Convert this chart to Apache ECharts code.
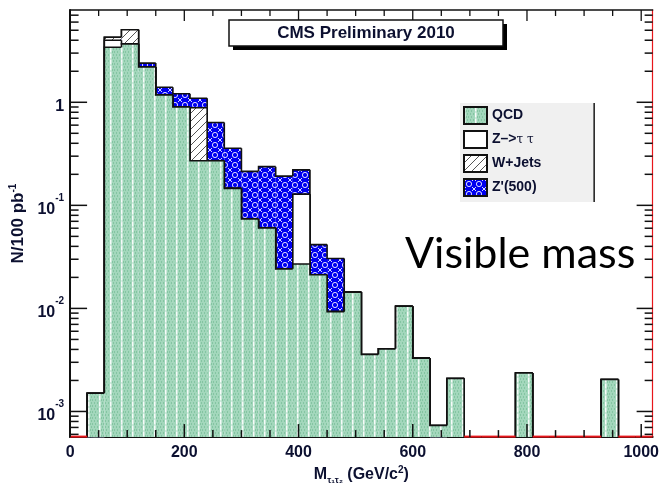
<!DOCTYPE html>
<html>
<head>
<meta charset="utf-8">
<script src="https://cdn.jsdelivr.net/npm/echarts@6/dist/echarts.min.js"></script>
<style>
html,body{margin:0;padding:0;background:#ffffff;}
#chart{width:662px;height:490px;}
</style>
</head>
<body>
<div id="chart"></div>
<script>
// ---------------- data ----------------
const binLow = [0,30,60,90,120,150,180,210,240,270,300,330,360,390,420,450,480,510,540,570,600,630,660,690,720,750,780,810,840,870,900,930,960,990];
const binWidth = 30;
const seriesNames = ['QCD', 'Z->ττ', 'W+Jets', "Z'(500)"];
const qcd     = [0,0.0015,3.42,3.69,2.20,1.18,0.90,0.271,0.271,0.146,0.0736,0.0605,0.0242,0.027,0.0212,0.0093,0.0144,0.00357,0.00405,0.0105,0.00329,0.00073,0.00209,0,0,0,0.00236,0,0,0,0,0.00204,0,0];
const ztautau = [0,0,0.58,0,0,0,0,0,0,0,0,0,0,0.101,0,0,0,0,0,0,0,0,0,0,0,0,0,0,0,0,0,0,0,0];
const wjets   = [0,0,0.27,1.37,0,0,0,0.615,0,0,0,0,0,0,0,0,0,0,0,0,0,0,0,0,0,0,0,0,0,0,0,0,0,0];
const zprime  = [0,0,0,0,0.20,0.22,0.31,0.21,0.365,0.212,0.140,0.177,0.168,0.093,0.0204,0.0212,0,0,0,0,0,0,0,0,0,0,0,0,0,0,0,0,0,0];
const xTickLabels = [0,200,400,600,800,1000];
const xTickValues = [0,50,100,150,200,250,300,350,400,450,500,550,600,650,700,750,800,850,900,950,1000];
const yTickLabels = [0.001,0.01,0.1,1];
const titleText = 'CMS Preliminary 2010';
const noteText = 'Visible mass';
const xAxisTitle = 'M{sub|τ₁τ₂} {b|(GeV/c}{sup|2}{b|)}';
const yAxisTitle = 'N/100 pb{sup|-1}';

// ---------------- config ----------------
const X_MIN = 0, X_MAX = 1020;
const Y_MIN = 5.64e-4, Y_MAX = 7.86;
const TXT = '#0c1030';
const FONT = '"Liberation Sans", Arial, sans-serif';

function makePattern(w, h, draw) {
  const c = document.createElement('canvas');
  c.width = w; c.height = h;
  draw(c.getContext('2d'));
  return { image: c, repeat: 'repeat' };
}
const qcdFill = makePattern(11, 6, g => {
  g.fillStyle = '#a3d7bc'; g.fillRect(0, 0, 11, 6);
  g.fillStyle = '#84c5a2';
  [[3,0],[6,0],[9,0],[4,3],[7,3],[2,3]].forEach(p => g.fillRect(p[0], p[1], 1, 2));
  g.fillStyle = 'rgba(255,255,255,0.9)'; g.fillRect(0, 0, 1.5, 4);
  g.fillStyle = 'rgba(255,255,255,0.5)'; g.fillRect(0, 4, 1.5, 2);
});
const zttFill = '#ffffff';
const wjFill = makePattern(8, 8, g => {
  g.fillStyle = '#ffffff'; g.fillRect(0, 0, 8, 8);
  g.strokeStyle = '#555'; g.lineWidth = 1;
  g.beginPath(); g.moveTo(-1, 9); g.lineTo(9, -1); g.stroke();
});
const zpFill = makePattern(10, 10, g => {
  g.fillStyle = '#0000f0'; g.fillRect(0, 0, 10, 10);
  g.strokeStyle = 'rgba(255,255,255,0.85)'; g.lineWidth = 1;
  g.beginPath(); g.arc(5, 5, 2.6, 0, Math.PI * 2); g.stroke();
  g.beginPath(); g.moveTo(0, 0); g.lineTo(2, 2); g.moveTo(10, 0); g.lineTo(8, 2);
  g.moveTo(0, 10); g.lineTo(2, 8); g.moveTo(10, 10); g.lineTo(8, 8); g.stroke();
});
const fills = [qcdFill, zttFill, wjFill, zpFill];

// cumulative stacked layers
const comps = [qcd, ztautau, wjets, zprime];
const layers = [];
let cum = binLow.map(() => 0);
comps.forEach(c => { cum = cum.map((v, i) => v + c[i]); layers.push(cum.slice()); });
const total = layers[3];

function layerRender(params, api) {
  const cs = params.coordSys;
  const yBase = cs.y + cs.height;
  const lo = api.value(0), hi = api.value(1), top = api.value(2), prev = api.value(3), last = api.value(4);
  const py = v => v > 0 ? Math.min(api.coord([lo, v])[1], yBase) : yBase;
  const x0 = api.coord([lo, Y_MIN])[0], x1 = api.coord([hi, Y_MIN])[0];
  const yt = py(top), yp = py(prev);
  const k = params.seriesIndex;
  const ch = [];
  if (yt < yBase) {
    ch.push({ type: 'rect', shape: { x: x0, y: yt, width: x1 - x0, height: yBase - yt }, style: { fill: fills[3 - k] } });
  }
  const pts = top > 0 ? [[x0, yp], [x0, yt], [x1, yt]] : [[x0, yp], [x0, yBase]];
  ch.push({ type: 'polyline', shape: { points: pts }, style: { stroke: '#111', lineWidth: 1.6, fill: null } });
  if (last && top > 0) ch.push({ type: 'line', shape: { x1: x1, y1: yt, x2: x1, y2: yBase }, style: { stroke: '#111', lineWidth: 1.6 } });
  return { type: 'group', children: ch };
}

const series = [];
[3, 2, 1, 0].forEach((k, idx) => {
  series.push({
    name: seriesNames[k], type: 'custom', renderItem: layerRender, z: 2 + idx, silent: true,
    itemStyle: { color: fills[k], borderColor: '#111', borderWidth: 1.5 },
    data: binLow.map((lo, i) => [lo, lo + binWidth, layers[k][i], i > 0 ? layers[k][i - 1] : 0, i === binLow.length - 1 ? 1 : 0])
  });
});
// red zero-level line of empty bins
series.push({
  name: 'zero', type: 'custom', z: 8, silent: true,
  data: binLow.map((lo, i) => [lo, lo + binWidth, total[i]]).filter(d => d[2] === 0),
  renderItem: (params, api) => {
    const cs = params.coordSys; const yB = cs.y + cs.height;
    const x0 = api.coord([api.value(0), Y_MIN])[0], x1 = api.coord([api.value(1), Y_MIN])[0];
    return { type: 'line', shape: { x1: x0, y1: yB - 0.5, x2: x1, y2: yB - 0.5 }, style: { stroke: '#e8161b', lineWidth: 2 } };
  }
});
// x ticks
series.push({
  name: 'xticks', type: 'custom', z: 9, silent: true,
  data: xTickValues.map(v => [v, Y_MIN]),
  renderItem: (params, api) => {
    const cs = params.coordSys; const v = api.value(0);
    const x = api.coord([v, Y_MIN])[0];
    const major = xTickLabels.indexOf(v) >= 0;
    const lb = major ? 13 : 7, lt = major ? 11 : 6;
    return { type: 'group', children: [
      { type: 'line', shape: { x1: x, y1: cs.y + cs.height, x2: x, y2: cs.y + cs.height - lb }, style: { stroke: '#111', lineWidth: 1.5 } },
      { type: 'line', shape: { x1: x, y1: cs.y, x2: x, y2: cs.y + lt }, style: { stroke: '#111', lineWidth: 1.3 } }
    ] };
  }
});
// y ticks (major decades + minor 2..9)
const yTickValues = [];
for (let e = -4; e <= 0; e++) for (let m = 1; m <= 9; m++) {
  const v = m * Math.pow(10, e);
  if (v >= Y_MIN && v <= Y_MAX) yTickValues.push(v);
}
series.push({
  name: 'yticks', type: 'custom', z: 9, silent: true,
  data: yTickValues.map(v => [X_MIN, v]),
  renderItem: (params, api) => {
    const cs = params.coordSys; const v = api.value(1);
    const y = api.coord([X_MIN, v])[1];
    const major = yTickLabels.some(t => Math.abs(t - v) / t < 1e-6);
    const ll = major ? 17 : 8.5, lr = major ? 16 : 8;
    return { type: 'group', children: [
      { type: 'line', shape: { x1: cs.x, y1: y, x2: cs.x + ll, y2: y }, style: { stroke: '#111', lineWidth: 1.5 } },
      { type: 'line', shape: { x1: cs.x + cs.width, y1: y, x2: cs.x + cs.width - lr, y2: y }, style: { stroke: '#111', lineWidth: 1.5 } }
    ] };
  }
});

const option = {
  animation: false,
  backgroundColor: '#ffffff',
  grid: { left: 70, top: 10, right: 7, bottom: 47.3, containLabel: false },
  legend: {
    data: seriesNames, orient: 'vertical', left: 460, top: 103,
    padding: [3, 52, 5, 3], itemWidth: 23, itemHeight: 17, itemGap: 5,
    backgroundColor: '#f0f0f0', shadowColor: 'rgba(0,0,0,0.9)', shadowOffsetX: 1.5, shadowOffsetY: 0, shadowBlur: 0,
    icon: 'rect', selectedMode: false,
    formatter: n => n === 'Z->ττ' ? 'Z–>{g|τ τ}' : n,
    textStyle: { fontFamily: FONT, fontWeight: 'bold', fontSize: 14, lineHeight: 17, color: TXT,
      rich: { g: { fontFamily: '"DejaVu Serif", serif', fontSize: 12, lineHeight: 17, fontWeight: 'normal', color: TXT } } }
  },
  xAxis: [{
    type: 'value', min: X_MIN, max: X_MAX, interval: 200, position: 'bottom',
    axisLine: { onZero: false, lineStyle: { color: '#111', width: 2 } },
    axisTick: { show: false }, splitLine: { show: false },
    axisLabel: { margin: 7, fontFamily: FONT, fontWeight: 'bold', fontSize: 16, color: TXT,
      formatter: v => xTickLabels.indexOf(v) >= 0 ? String(v) : '' },
    name: xAxisTitle, nameLocation: 'middle', nameGap: 25,
    nameTextStyle: { fontFamily: FONT, fontWeight: 'bold', fontSize: 16, color: TXT,
      rich: { sub: { fontSize: 9, fontWeight: 'bold', verticalAlign: 'bottom', lineHeight: 20, color: TXT },
              b: { fontSize: 16, fontWeight: 'bold', lineHeight: 20, color: TXT },
              sup: { fontSize: 10, fontWeight: 'bold', verticalAlign: 'top', lineHeight: 20, color: TXT } } }
  }, {
    type: 'value', min: X_MIN, max: X_MAX, position: 'top',
    axisLine: { onZero: false, lineStyle: { color: '#111', width: 1.6 } },
    axisTick: { show: false }, axisLabel: { show: false }, splitLine: { show: false }
  }],
  yAxis: [{
    type: 'log', min: Y_MIN, max: Y_MAX, position: 'left',
    axisLine: { onZero: false, lineStyle: { color: '#111', width: 2 } },
    axisTick: { show: false }, splitLine: { show: false }, minorTick: { show: false },
    axisLabel: { margin: 6, fontFamily: FONT, fontWeight: 'bold', color: TXT,
      formatter: v => {
        const l = Math.log10(v), e = Math.round(l);
        if (Math.abs(l - e) > 1e-6 || yTickLabels.every(t => Math.abs(t - v) / t > 1e-6)) return '';
        return e === 0 ? '{b|1}' : '{b|10}{s|' + e + '}';
      },
      rich: { b: { fontSize: 16, fontWeight: 'bold', color: TXT, lineHeight: 24, verticalAlign: 'bottom', fontFamily: FONT },
              s: { fontSize: 10, fontWeight: 'bold', color: TXT, lineHeight: 24, verticalAlign: 'top', fontFamily: FONT } } },
    name: yAxisTitle, nameLocation: 'middle', nameGap: 33, nameRotate: 90,
    nameTextStyle: { fontFamily: FONT, fontWeight: 'bold', fontSize: 17, color: TXT,
      rich: { sup: { fontSize: 10, fontWeight: 'bold', verticalAlign: 'top', lineHeight: 20, color: TXT } } }
  }, {
    type: 'log', min: Y_MIN, max: Y_MAX, position: 'right',
    axisLine: { onZero: false, lineStyle: { color: '#e8161b', width: 1.2 } },
    axisTick: { show: false }, axisLabel: { show: false }, splitLine: { show: false }
  }],
  series: series,
  graphic: [
    { type: 'rect', z: 20, shape: { x: 233, y: 24, width: 274, height: 26 }, style: { fill: '#000' } },
    { type: 'rect', z: 21, shape: { x: 229, y: 20, width: 274, height: 26 }, style: { fill: '#fff', stroke: '#111', lineWidth: 1.5 } },
    { type: 'text', z: 22, style: { x: 366, y: 33.5, text: titleText, align: 'center', verticalAlign: 'middle',
      font: 'bold 17px ' + FONT, fill: TXT } },
    { type: 'text', z: 22, style: { x: 405, y: 254, text: noteText, align: 'left', verticalAlign: 'middle',
      font: '43px Lato, "Open Sans", sans-serif', fill: '#000' } }
  ]
};

const chart = echarts.init(document.getElementById('chart'), null, { renderer: 'canvas' });
chart.setOption(option);
</script>
</body>
</html>
